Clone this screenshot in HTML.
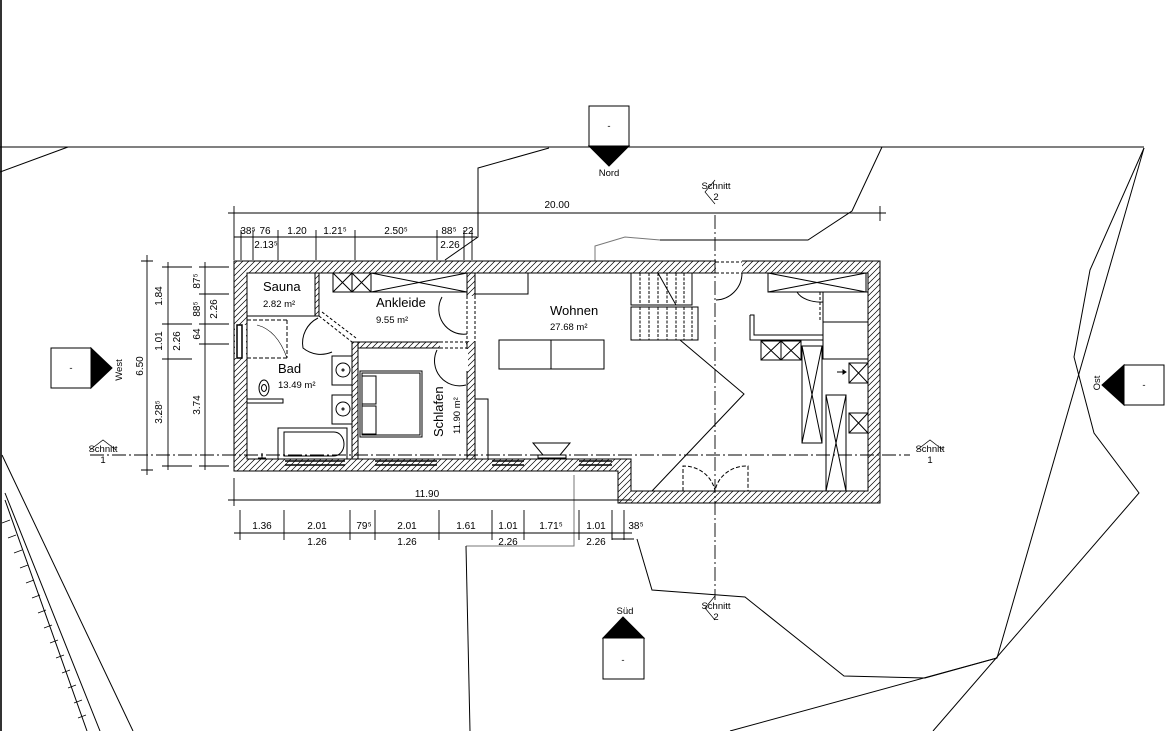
<!DOCTYPE html>
<html><head><meta charset="utf-8"><style>
html,body{margin:0;padding:0;background:#fff}
svg{display:block}
text{font-family:"Liberation Sans",sans-serif;fill:#000}
.d{font-size:10px}
.r{font-size:13px}
.a{font-size:9.5px}
</style></head><body>
<svg width="1170" height="731" viewBox="0 0 1170 731" xmlns="http://www.w3.org/2000/svg">
<defs>
<pattern id="h" patternUnits="userSpaceOnUse" width="6" height="6">
<rect width="6" height="6" fill="#fff"/>
<path d="M-1,7 L7,-1 M-2,2 L2,-2 M4,8 L8,4" stroke="#000" stroke-width="0.7"/>
</pattern>
</defs>
<rect x="0" y="0" width="2" height="731" fill="#333"/>
<g fill="none" stroke="#000" stroke-width="1">
<!-- terrain -->
<line x1="0" y1="147" x2="1144" y2="147"/>
<line x1="0" y1="172" x2="68" y2="147"/>
<polyline points="549,148 478,168 478,237 445,260"/>
<polyline points="882,147 852,211 808,240 660,240" />
<polyline points="660,240 625,237 595,246 595,262" stroke="#777"/>
<polyline points="1144,148 1090,270 1074,357 1094,433 1139,493 933,731"/>
<polyline points="1144,148 997,658 730,731"/>
<polyline points="637,539 652,590 745,597 844,676 925,678 997,658"/>
<polyline points="466,546 574,546 574,475" stroke="#777"/>
<line x1="466" y1="546" x2="470" y2="731"/>
<line x1="2" y1="455" x2="133" y2="731"/>
<line x1="5" y1="493" x2="100" y2="731"/>
<line x1="5" y1="500" x2="87" y2="731"/>
<path d="M10,520 l-8,3 M16,535 l-8,3 M22,550 l-8,3 M28,565 l-8,3 M34,580 l-8,3 M40,595 l-8,3 M46,610 l-8,3 M52,625 l-8,3 M58,640 l-8,3 M64,655 l-8,3 M70,670 l-8,3 M76,685 l-8,3 M82,700 l-8,3 M86,715 l-8,3" stroke-width="0.7"/>
</g>
<!-- building walls -->
<polygon points="234,261 880,261 880,503 618,503 618,471 234,471" fill="url(#h)" stroke="#000"/>
<polygon points="247,273 868,273 868,491 631,491 631,459 247,459" fill="#fff" stroke="#000"/>
<!-- interior hatched walls -->
<rect x="467" y="273" width="8" height="186" fill="url(#h)" stroke="#000"/>
<rect x="352" y="342" width="115" height="6" fill="url(#h)" stroke="#000"/>
<rect x="352" y="342" width="6" height="117" fill="url(#h)" stroke="#000"/>
<rect x="315" y="273" width="4" height="43" fill="url(#h)" stroke="#000"/>
<g fill="#fff" stroke="none">
<rect x="466" y="296" width="10" height="45"/>
<rect x="440" y="341" width="26" height="8"/>
<rect x="466" y="349" width="2" height="22"/>
<rect x="716" y="260" width="26" height="14"/>
<rect x="235" y="325" width="11" height="33"/>
</g>
<g fill="none" stroke="#000" stroke-width="1">
<path d="M475,296 v45 M467,296 v45" stroke-dasharray="3,2"/>
<path d="M440,342 h27 M440,348 h27" stroke-dasharray="3,2"/>
<path d="M716,262 h26 M716,273 h26" stroke-dasharray="3,2"/>
<rect x="237" y="325" width="5" height="33" stroke-width="1.5"/>
<!-- windows bottom -->
<path d="M285,461 h60 M285,465 h60 M375,461 h62 M375,465 h62 M492,461 h32 M492,465 h32 M579,461 h33 M579,465 h33" stroke-width="1.4"/>
<!-- sauna -->
<rect x="247" y="273" width="68" height="43"/>
<path d="M247,316 h68" stroke-width="1"/>
<path d="M247,320 h40 M287,320 v38 M247,358 h40" stroke-dasharray="4,2"/>
<path d="M257,325 q20,5 30,33" stroke-width="0.6"/>
<!-- diagonal door -->
<path d="M319,316 L352,342 M322,312 L356,338" stroke-dasharray="3,2"/>
<path d="M318,318 a28,28 0 0 0 -15,30 a28,28 0 0 0 29,4"/>
<!-- ankleide furniture -->
<rect x="333" y="273" width="134" height="19"/>
<path d="M333,273 l19,19 M352,273 l-19,19 M352,273 l19,19 M371,273 l-19,19 M352,273 v19 M371,273 v19 M371,273 l96,19 M467,273 l-96,19"/>
<path d="M442,297 a25,25 0 0 0 25,37"/>
<path d="M437,350 a25,25 0 0 0 29,35"/>
<!-- bad -->
<rect x="332" y="356" width="20" height="29"/><circle cx="343" cy="370" r="7"/><circle cx="343" cy="370" r="1"/>
<rect x="332" y="395" width="20" height="29"/><circle cx="343" cy="409" r="7"/><circle cx="343" cy="409" r="1"/>
<rect x="247" y="399" width="36" height="4"/>
<ellipse cx="264" cy="388" rx="5" ry="8"/><ellipse cx="264" cy="388" rx="2.5" ry="3.5"/>
<rect x="278" y="428" width="69" height="31"/>
<path d="M284,432 h50 a10,12 0 0 1 0,24 h-50 z"/>
<path d="M262,453 v5 M258,458 h8"/>
<!-- schlafen bed -->
<rect x="360" y="371" width="62" height="66"/><rect x="362" y="373" width="58" height="62"/>
<rect x="362" y="376" width="14" height="28"/><rect x="362" y="406" width="14" height="28"/>
<!-- wohnen -->
<rect x="475" y="273" width="53" height="21"/>
<rect x="499" y="340" width="105" height="29"/><line x1="551" y1="340" x2="551" y2="369"/>
<rect x="475" y="399" width="13" height="60"/>
<path d="M533,443 h37 l-10,12 h-17 z M538,455 h28 v3 h-28 z"/>
<!-- stairs -->
<rect x="631" y="273" width="61" height="32"/>
<rect x="631" y="307" width="67" height="33"/>
<path d="M640,273v32 M649,273v32 M658,273v32 M667,273v32 M676,273v32 M684,273v32 M640,307v33 M649,307v33 M658,307v33 M667,307v33 M676,307v33 M684,307v33 M692,307v33" stroke-dasharray="3,1.5"/>
<path d="M658,273 l18,32"/>
<polyline points="680,340 744,394 652,491"/>
<path d="M742,273 a27,27 0 0 1 -26,27"/>
<line x1="631" y1="459" x2="631" y2="491"/>
<path d="M683,491 v-25 a32,30 0 0 1 32,25 a32,30 0 0 1 33,-25 v25" stroke-dasharray="4,2"/>
<!-- right furniture -->
<rect x="768" y="273" width="98" height="19"/><path d="M768,273 L866,292 M866,273 L768,292"/>
<path d="M797,292 a25,15 0 0 0 26,10" />
<path d="M820,292 v30 M823,292 v30" stroke-dasharray="3,2"/>
<rect x="823" y="322" width="45" height="37"/>
<rect x="823" y="292" width="45" height="30"/>
<path d="M750,315 v25 h73 M750,315 h4 v20 h69" />
<rect x="761" y="341" width="40" height="19"/><path d="M761,341 l20,19 M781,341 l-20,19 M781,341 v19 M781,341 l20,19 M801,341 l-20,19"/>
<rect x="802" y="346" width="20" height="97"/><path d="M802,346 L822,443 M822,346 L802,443"/>
<rect x="826" y="395" width="20" height="96"/><path d="M826,395 L846,491 M846,395 L826,491"/>
<rect x="849" y="363" width="19" height="20"/><path d="M849,363 l19,20 M868,363 l-19,20"/>
<rect x="849" y="413" width="19" height="20"/><path d="M849,413 l19,20 M868,413 l-19,20"/>
<path d="M837,372 h9"/><path d="M846,372 l-3,-2 v4 z" fill="#000"/>
<!-- step -->
<path d="M618,471 v32"/>
<!-- axis lines -->
<line x1="90" y1="455" x2="910" y2="455" stroke-dasharray="14,3,2,3" stroke-width="0.9"/>
<line x1="715" y1="215" x2="715" y2="600" stroke-dasharray="14,3,2,3" stroke-width="0.9"/>
</g>
<!-- dimensions -->
<g fill="none" stroke="#000" stroke-width="0.9">
<line x1="228" y1="213" x2="886" y2="213"/>
<path d="M234,206 v54 M880,206 v15"/>
<line x1="234" y1="237" x2="477" y2="237"/>
<path d="M241,230 v30 M253,230 v30 M278,230 v30 M316,230 v30 M355,230 v30 M437,230 v30 M464,230 v30 M472,230 v30"/>
<line x1="228" y1="500" x2="632" y2="500"/>
<path d="M234,478 v28"/>
<line x1="234" y1="533" x2="632" y2="533"/>
<path d="M240,510 v30 M284,510 v30 M350,510 v30 M375,510 v30 M439,510 v30 M492,510 v30 M524,510 v30 M579,510 v30 M612,510 v30 M624,510 v30"/>
<path d="M612,533 v6 h22"/>
<line x1="147" y1="255" x2="147" y2="475"/>
<path d="M141,261 h12 M141,470 h12"/>
<line x1="168" y1="262" x2="168" y2="470"/>
<path d="M162,267 h30 M162,324 h30 M162,359 h30 M162,466 h30"/>
<line x1="205" y1="262" x2="205" y2="470"/>
<path d="M199,267 h30 M199,294 h30 M199,324 h30 M199,344 h30 M199,466 h30"/>
</g>
<g class="d" text-anchor="middle">
<text x="557" y="208">20.00</text>
<text x="248" y="234">38⁵</text><text x="265" y="234">76</text><text x="297" y="234">1.20</text><text x="335" y="234">1.21⁵</text><text x="396" y="234">2.50⁵</text><text x="449" y="234">88⁵</text><text x="468" y="234">22</text>
<text x="266" y="248">2.13⁵</text><text x="450" y="248">2.26</text>
<text x="427" y="497">11.90</text>
<text x="262" y="529">1.36</text><text x="317" y="529">2.01</text><text x="364" y="529">79⁵</text><text x="407" y="529">2.01</text><text x="466" y="529">1.61</text><text x="508" y="529">1.01</text><text x="551" y="529">1.71⁵</text><text x="596" y="529">1.01</text><text x="636" y="529">38⁵</text>
<text x="317" y="545">1.26</text><text x="407" y="545">1.26</text><text x="508" y="545">2.26</text><text x="596" y="545">2.26</text>
<text transform="translate(162,296) rotate(-90)">1.84</text>
<text transform="translate(162,341) rotate(-90)">1.01</text>
<text transform="translate(162,412) rotate(-90)">3.28⁵</text>
<text transform="translate(143,366) rotate(-90)">6.50</text>
<text transform="translate(180,341) rotate(-90)">2.26</text>
<text transform="translate(200,281) rotate(-90)">87⁵</text>
<text transform="translate(200,309) rotate(-90)">88⁵</text>
<text transform="translate(217,309) rotate(-90)">2.26</text>
<text transform="translate(200,334) rotate(-90)">64</text>
<text transform="translate(200,405) rotate(-90)">3.74</text>
</g>
<!-- room labels -->
<text class="r" x="263" y="291">Sauna</text><text class="a" x="263" y="307">2.82 m²</text>
<text class="r" x="376" y="307">Ankleide</text><text class="a" x="376" y="323">9.55 m²</text>
<text class="r" x="550" y="315">Wohnen</text><text class="a" x="550" y="330">27.68 m²</text>
<text class="r" x="278" y="373">Bad</text><text class="a" x="278" y="388">13.49 m²</text>
<text class="r" transform="translate(443,437) rotate(-90)">Schlafen</text>
<text class="a" transform="translate(460,434) rotate(-90)">11.90 m²</text>
<!-- markers -->
<g stroke="#000" stroke-width="1">
<rect x="589" y="106" width="40" height="40" fill="#fff"/><polygon points="589,146 629,146 609,166" fill="#000"/>
<rect x="51" y="348" width="40" height="40" fill="#fff"/><polygon points="91,348 91,388 112,368" fill="#000"/>
<rect x="1124" y="365" width="40" height="40" fill="#fff"/><polygon points="1124,365 1124,405 1102,385" fill="#000"/>
<rect x="603" y="638" width="41" height="41" fill="#fff"/><polygon points="603,638 644,638 623,617" fill="#000"/>
<path d="M90,450 l13,-10 l13,10 M917,450 l13,-10 l13,10 M715,180 l-10,12 l10,12 M715,596 l-10,12 l10,12" fill="none" stroke-width="0.7"/>
</g>
<g class="a" text-anchor="middle">
<text x="609" y="129">-</text><text x="71" y="371">-</text><text x="1144" y="388">-</text><text x="623" y="663">-</text>
<text x="609" y="176">Nord</text>
<text x="625" y="614">Süd</text>
<text transform="translate(122,370) rotate(-90)">West</text>
<text transform="translate(1100,383) rotate(-90)">Ost</text>
<text x="103" y="452">Schnitt</text><text x="103" y="463">1</text>
<text x="930" y="452">Schnitt</text><text x="930" y="463">1</text>
<text x="716" y="189">Schnitt</text><text x="716" y="200">2</text>
<text x="716" y="609">Schnitt</text><text x="716" y="620">2</text>
</g>
</svg>
</body></html>
